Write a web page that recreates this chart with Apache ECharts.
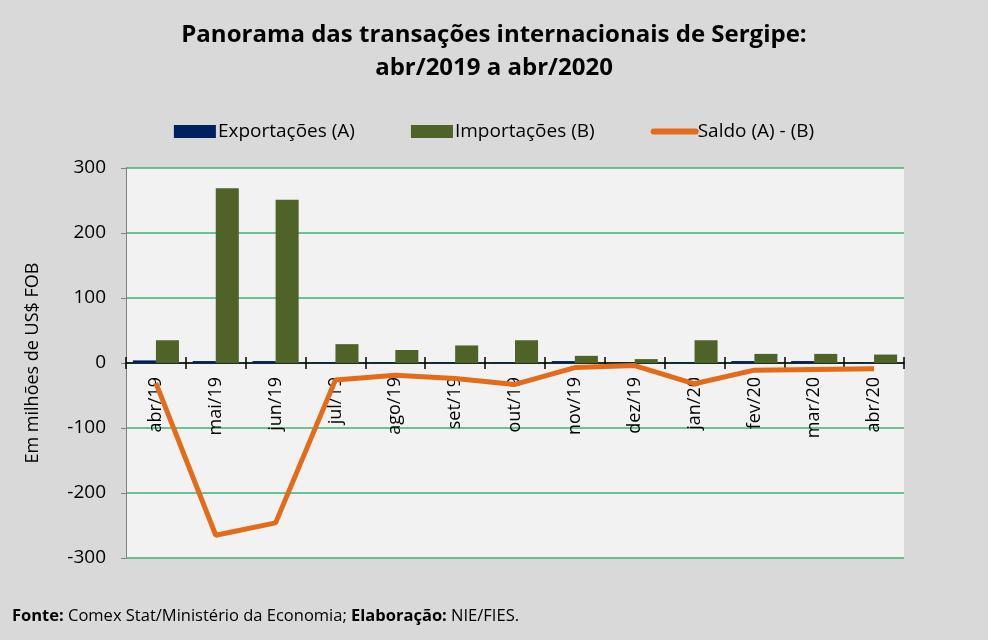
<!DOCTYPE html>
<html>
<head>
<meta charset="utf-8">
<script src="https://cdn.jsdelivr.net/npm/echarts@6/dist/echarts.min.js"></script>
<style>
  html, body { margin: 0; padding: 0; background: #d9d9d9; }
  #chart { width: 988px; height: 640px; }
</style>
</head>
<body>
<div id="chart"></div>
<script>
var meses = ['abr/19', 'mai/19', 'jun/19', 'jul/19', 'ago/19', 'set/19', 'out/19',
  'nov/19', 'dez/19', 'jan/20', 'fev/20', 'mar/20', 'abr/20'];
var exportacoes = [4, 3, 3, 1, 1, 1, 1, 3, 1, 1, 3, 3, 1];
var importacoes = [35, 269, 251, 29, 20, 27, 35, 11, 6, 35, 14, 14, 13];
var saldo = [-31, -265, -246, -26, -19, -24, -33, -7, -4, -32, -11, -10, -9];
var yTicks = [-300, -200, -100, 0, 100, 200, 300];

var fonte = 'Open Sans, sans-serif';
var myChart = echarts.init(document.getElementById('chart'));

// eixo x desenhado na linha do zero (grid: top 168, altura 390 -> zero a 195px do fundo)
var zeroOffset = -195;

var option = {
  backgroundColor: '#d9d9d9',
  animation: false,
  title: {
    text: 'Panorama das transações internacionais de Sergipe:\nabr/2019 a abr/2020',
    left: 'center',
    top: 14,
    textStyle: { fontFamily: fonte, fontSize: 24, fontWeight: 'bold', color: '#000', lineHeight: 33 }
  },
  legend: {
    top: 117,
    left: 'center',
    itemGap: 56,
    itemWidth: 42,
    itemHeight: 13,
    textStyle: { fontFamily: fonte, fontSize: 19, color: '#000', padding: [0, 0, 0, -3] },
    data: [
      { name: 'Exportações (A)', icon: 'rect' },
      { name: 'Importações (B)', icon: 'rect' },
      { name: 'Saldo (A) - (B)', itemStyle: { opacity: 0 }, lineStyle: { width: 6, cap: 'round' } }
    ]
  },
  grid: {
    left: 126, right: 84, top: 168, bottom: 82,
    show: true, backgroundColor: '#f2f2f2', borderWidth: 0
  },
  xAxis: [
    {
      type: 'category',
      data: meses,
      offset: zeroOffset,
      axisLine: { onZero: false, lineStyle: { color: '#000', width: 1.5 } },
      axisTick: { show: true, length: 6, lineStyle: { color: '#000', width: 1.5 } },
      axisLabel: { rotate: 90, fontFamily: fonte, fontSize: 18, color: '#000', margin: 14 }
    },
    {
      type: 'category',
      data: meses,
      position: 'bottom',
      offset: zeroOffset,
      axisLine: { show: false },
      axisTick: { show: true, inside: true, length: 6, lineStyle: { color: '#000', width: 1.5 } },
      axisLabel: { show: false }
    }
  ],
  yAxis: {
    type: 'value',
    min: -300, max: 300, interval: 100,
    name: 'Em milhões de US$ FOB',
    nameLocation: 'middle',
    nameGap: 84,
    nameTextStyle: { fontFamily: fonte, fontSize: 18, color: '#000' },
    axisLine: { show: true, lineStyle: { color: '#808080', width: 1 } },
    axisTick: { show: true, length: 5, lineStyle: { color: '#808080' } },
    axisLabel: {
      fontFamily: fonte, fontSize: 19, color: '#000', margin: 20,
      formatter: function(v) { return yTicks.indexOf(v) >= 0 ? String(v) : ''; }
    },
    splitLine: { lineStyle: { color: '#3cb371', width: 1.5 } }
  },
  series: [
    {
      name: 'Exportações (A)', type: 'bar', data: exportacoes,
      barGap: '0%', barCategoryGap: '23%',
      itemStyle: { color: '#002060' }
    },
    {
      name: 'Importações (B)', type: 'bar', data: importacoes,
      itemStyle: { color: '#4f6228' }
    },
    {
      name: 'Saldo (A) - (B)', type: 'line', data: saldo,
      symbol: 'none',
      lineStyle: { color: '#e36c1a', width: 5 },
      itemStyle: { color: '#e36c1a' }
    }
  ],
  graphic: [{
    type: 'text',
    left: 12,
    top: 608,
    style: {
      text: '{b|Fonte:} Comex Stat/Ministério da Economia; {b|Elaboração:} NIE/FIES.',
      fontFamily: fonte, fontSize: 16.5, fill: '#000',
      rich: { b: { fontFamily: fonte, fontSize: 16.5, fontWeight: 'bold', fill: '#000' } }
    }
  }]
};
myChart.setOption(option);
</script>
</body>
</html>
